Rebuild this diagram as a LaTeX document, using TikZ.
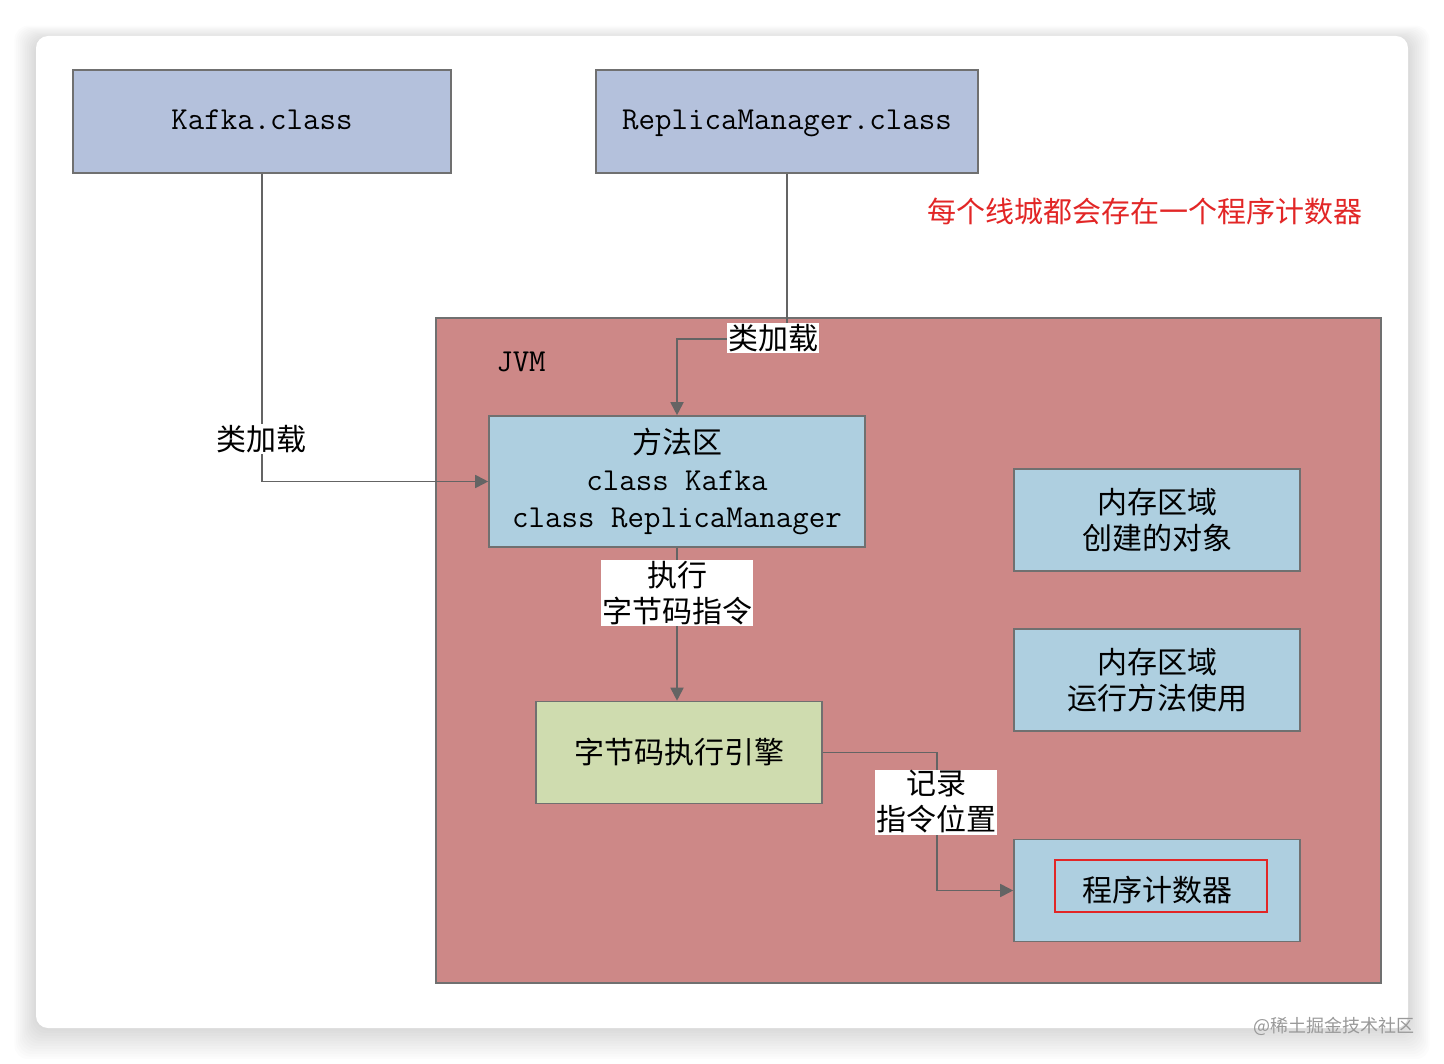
\documentclass[tikz,border=0pt]{standalone}
\usepackage{fontspec}
\newfontfamily\cjk{Noto Sans CJK SC}
\usetikzlibrary{arrows.meta,positioning,calc}
\definecolor{clsblue}{RGB}{180,193,220}
\definecolor{jvmred}{RGB}{205,136,135}
\definecolor{memblue}{RGB}{174,207,224}
\definecolor{enggreen}{RGB}{207,220,175}
\definecolor{edgegray}{RGB}{112,112,112}
\definecolor{linkgray}{RGB}{100,100,100}
\definecolor{notered}{RGB}{226,38,38}
\begin{document}
\begin{tikzpicture}[x=1pt, y=-1pt, >={Triangle[length=13pt,width=13pt]},
    box/.style={draw=edgegray, line width=1.6pt, align=center, inner sep=0pt},
    cls/.style={box, fill=clsblue, minimum height=103pt, text height=20pt, text depth=4pt, font=\ttfamily\fontsize{32}{37}\selectfont},
    mem/.style={box, fill=memblue, minimum width=286pt, minimum height=102pt, font=\cjk\fontsize{30}{36}\selectfont},
    link/.style={->, draw=linkgray, line width=1.8pt},
    lbl/.style={fill=white, inner sep=1pt, align=center, font=\cjk\fontsize{30}{36}\selectfont}]
  \useasboundingbox (0,0) rectangle (1444,1064);
  \fill[white] (0,0) rectangle (1444,1064);
  \foreach \i in {1,...,12}
    \fill[black, opacity=0.012, rounded corners=14pt] ({36-\i*1.8},{36-\i*1.2+4}) rectangle ({1408+\i*1.8},{1028+\i*2.6});
  \fill[white, rounded corners=12pt] (36,36) rectangle (1408,1028);

  \node[cls, minimum width=378pt] (kafka) at (262,121.5) {Kafka.class};
  \node[cls, minimum width=382pt] (replica) at (787,121.5) {ReplicaManager.class};
  \node[text=notered, font=\cjk\fontsize{29}{34}\selectfont] (note) at (1145,211) {每个线城都会存在一个程序计数器};

  \node[box, fill=jvmred, minimum width=945pt, minimum height=665pt] (jvm) at (908.5,650.5) {};
  \node[font=\ttfamily\fontsize{32}{37}\selectfont] (jvmname) at (521,362) {JVM};

  \node[box, fill=memblue, minimum width=376pt, minimum height=131pt, font=\ttfamily\fontsize{32}{37}\selectfont] (method) at (677,481.5)
    {{\cjk\fontsize{30}{37}\selectfont 方法区}\\class Kafka\\class ReplicaManager};
  \node[mem] (heap) at (1157,520) {内存区域\\创建的对象};
  \node[mem] (stack) at (1157,680) {内存区域\\运行方法使用};
  \node[mem, fill=enggreen] (engine) at (679,752.5) {字节码执行引擎};
  \node[mem] (pc) at (1157,890.5) {程序计数器};
  \node[draw=notered, line width=1.6pt, minimum width=212pt, minimum height=52pt] (pcmark) at (1161,886) {};

  \draw[link] (kafka.south) |- (method.west);
  \draw[link] (replica.south) -- ++(0,165) -| (method.north);
  \draw[link] (method.south) -- (method.south |- engine.north);
  \draw[link] (engine.east) -- ++(114,0) |- (pc.west);

  \node[lbl] (loadk) at (261,439) {类加载};
  \node[lbl] (loadr) at (773,338) {类加载};
  \node[lbl] (run) at (677,593) {执行\\字节码指令};
  \node[lbl] (rec) at (936,802) {记录\\指令位置};

  \node[anchor=east, text=black!40, font=\cjk\fontsize{18}{20}\selectfont] (mark) at (1418,1026) {@稀土掘金技术社区};
\end{tikzpicture}
\end{document}
